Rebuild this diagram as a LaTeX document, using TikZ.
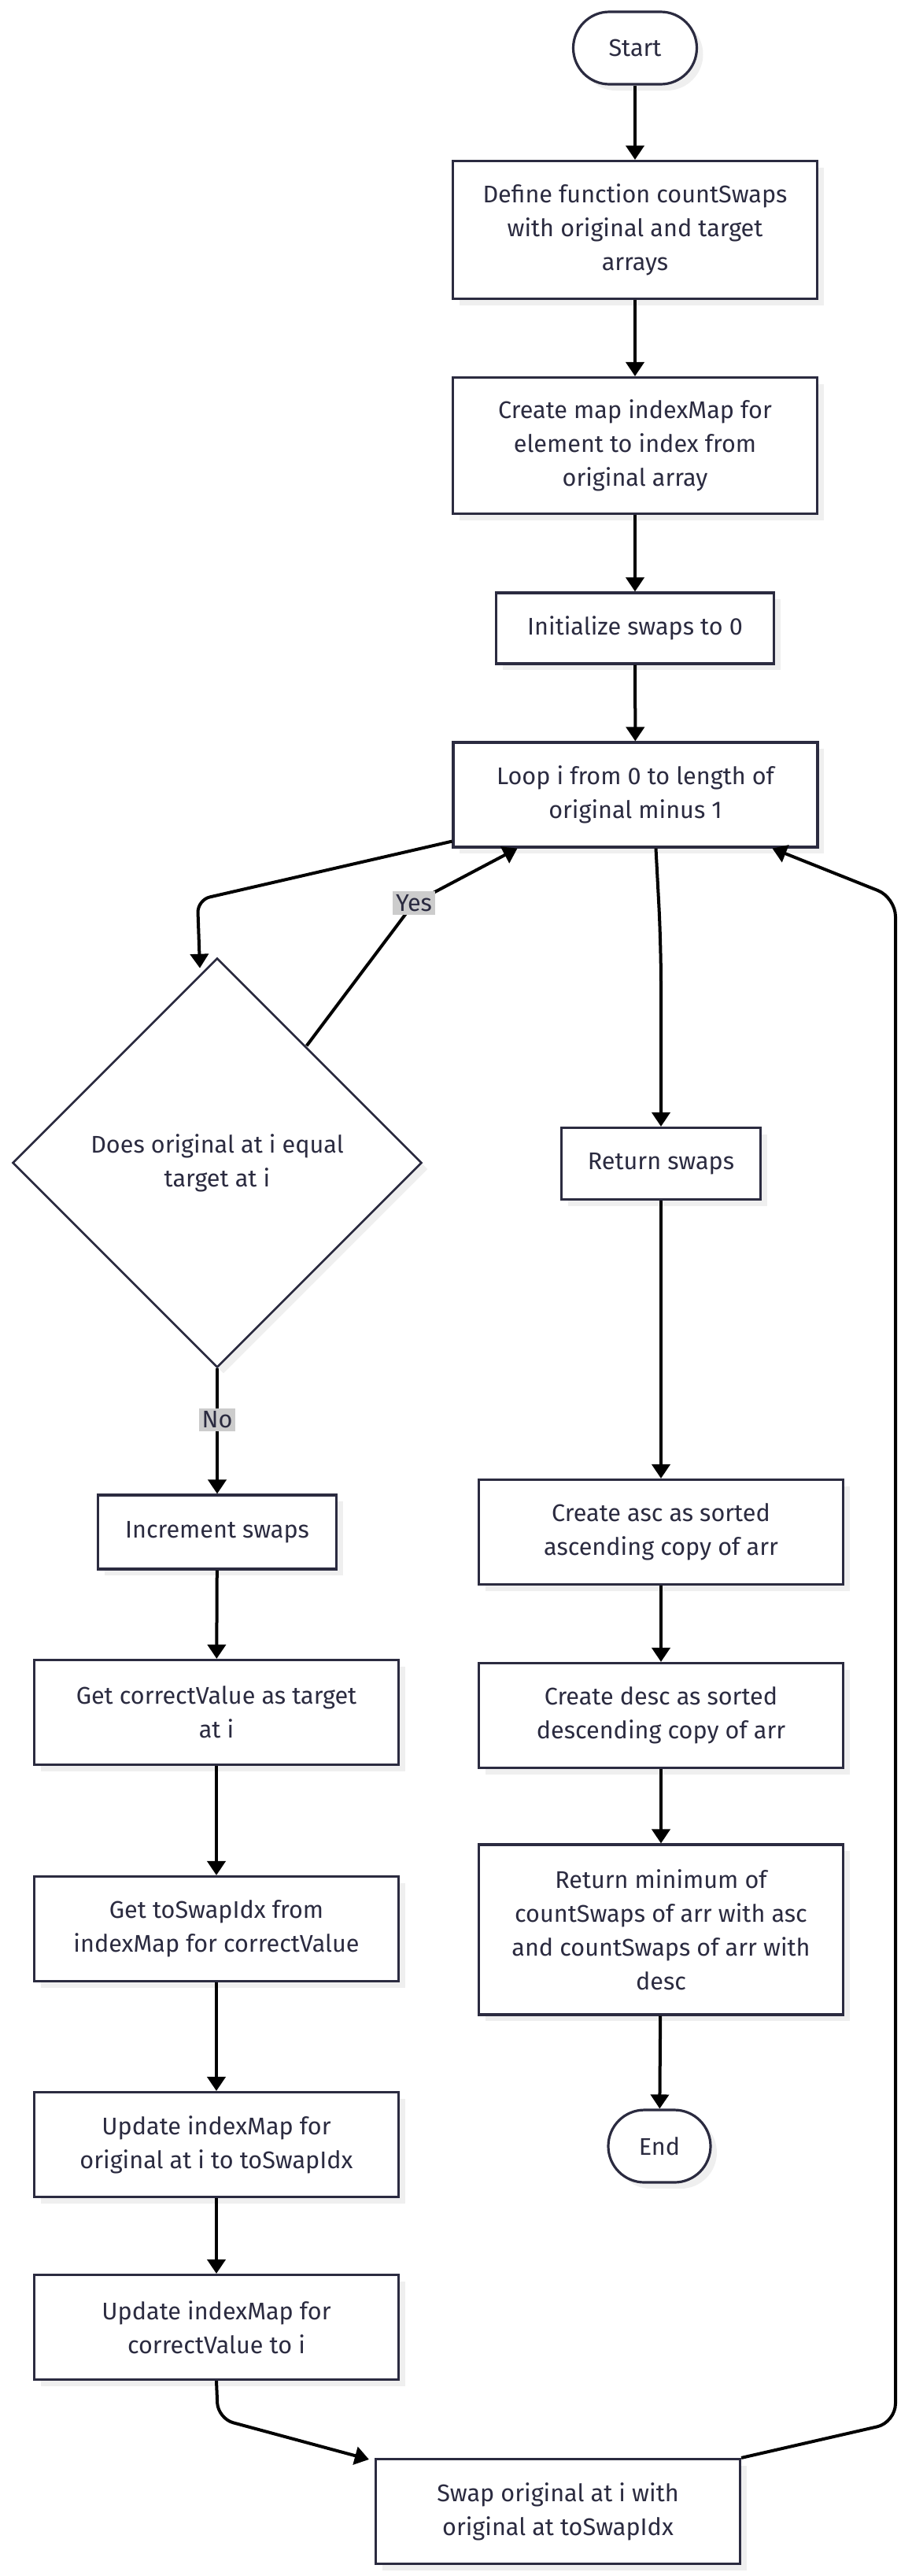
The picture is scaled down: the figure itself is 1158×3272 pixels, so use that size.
\documentclass[tikz,border=0pt]{standalone}
\usepackage{fontspec}
\setmainfont{Fira Sans}
\usetikzlibrary{shapes.geometric, arrows.meta, shadows}
\definecolor{navy}{HTML}{2B2B40}
\definecolor{shade}{HTML}{EFEFEF}
\definecolor{lblgray}{HTML}{CCCCCC}

\begin{document}
\begin{tikzpicture}[x=0.5pt, y=-0.5pt,
    txt/.style={text=navy, align=center, font=\fontsize{15.3}{21.5}\selectfont},
    box/.style={txt, draw=navy, line width=1.6pt, fill=white, rectangle, inner sep=0pt,
        minimum width=231.5pt, minimum height=66.5pt,
        general shadow={shadow xshift=4pt, shadow yshift=-4pt, fill=shade}},
    term/.style={box, rounded corners=23pt, minimum width=78.5pt, minimum height=46pt},
    decision/.style={txt, draw=navy, line width=1.3pt, fill=white, diamond, aspect=1, inner sep=0pt,
        minimum width=260pt, minimum height=260pt,
        general shadow={shadow xshift=4pt, shadow yshift=-4pt, fill=shade}},
    lbl/.style={txt, fill=lblgray, inner sep=2pt},
    flow/.style={draw=black, line width=2pt, -{Triangle[length=9pt, width=11.5pt]}}]
    \useasboundingbox (0,0) rectangle (1158,3272);

    % Nodes
    \node[term] (start) at (807, 61) {Start};
    \node[box, minimum height=87.5pt] (def) at (807, 292) {Define function countSwaps\\with original and target\\arrays};
    \node[box, minimum height=86.5pt] (map) at (807, 566) {Create map indexMap for\\element to index from\\original array};
    \node[box, minimum width=176.5pt, minimum height=45pt] (init) at (807, 798) {Initialize swaps to 0};
    \node[box] (loop) at (807.5, 1009.5) {Loop i from 0 to length of\\original minus 1};
    \node[decision] (dec) at (276, 1477) {Does original at i equal\\target at i};
    \node[box, minimum width=126.5pt, minimum height=45.5pt] (ret) at (840, 1478) {Return swaps};
    \node[box, minimum width=151.5pt, minimum height=47pt] (inc) at (276, 1946) {Increment swaps};
    \node[box] (getcv) at (275, 2175) {Get correctValue as target\\at i};
    \node[box] (getidx) at (275, 2450) {Get toSwapIdx from\\indexMap for correctValue};
    \node[box] (upd1) at (275, 2724) {Update indexMap for\\original at i to toSwapIdx};
    \node[box] (upd2) at (275, 2956) {Update indexMap for\\correctValue to i};
    \node[box] (swap) at (709, 3190) {Swap original at i with\\original at toSwapIdx};
    \node[box] (asc) at (840, 1946) {Create asc as sorted\\ascending copy of arr};
    \node[box] (desc) at (840, 2179) {Create desc as sorted\\descending copy of arr};
    \node[box, minimum height=108pt] (min) at (840, 2451) {Return minimum of\\countSwaps of arr with asc\\and countSwaps of arr with\\desc};
    \node[term, minimum width=65pt] (end) at (838, 2726) {End};

    % Bends
    \coordinate (bendA) at (251, 1143);
    \coordinate (yesPt) at (526, 1147);
    \coordinate (bendB) at (277, 3072);
    \coordinate (bendC) at (1138, 3077);
    \coordinate (bendD) at (1138, 1140);
    \coordinate (bendE) at (840, 1200);

    % Edges
    \draw[flow] (start) -- (def);
    \draw[flow] (def) -- (map);
    \draw[flow] (map) -- (init);
    \draw[flow] (init) -- (loop);
    \draw[flow, rounded corners=8pt] ([yshift=4.5pt]loop.south west) -- (bendA) -- ([xshift=-11pt, yshift=-7pt]dec.north);
    \draw[flow] ([xshift=-8.5pt, yshift=9pt]dec.north east) -- (yesPt) node[lbl] {Yes} -- ([xshift=-75pt]loop.south);
    \draw[flow, rounded corners=25pt] ([xshift=13pt]loop.south) -- (bendE) -- (ret.north);
    \draw[flow] (dec.south) -- node[lbl, pos=0.41] {No} (inc.north);
    \draw[flow] (inc) -- (getcv);
    \draw[flow] (getcv) -- (getidx);
    \draw[flow] (getidx) -- (upd1);
    \draw[flow] (upd1) -- (upd2);
    \draw[flow, rounded corners=10pt] (upd2.south) -- (bendB) -- ([xshift=-3.5pt, yshift=-1pt]swap.north west);
    \draw[flow, rounded corners=12pt] (swap.north east) -- (bendC) -- (bendD) -- ([xshift=87pt]loop.south);
    \draw[flow] (ret) -- (asc);
    \draw[flow] (asc) -- (desc);
    \draw[flow] (desc) -- (min);
    \draw[flow] (min) -- (end);
\end{tikzpicture}
\end{document}
